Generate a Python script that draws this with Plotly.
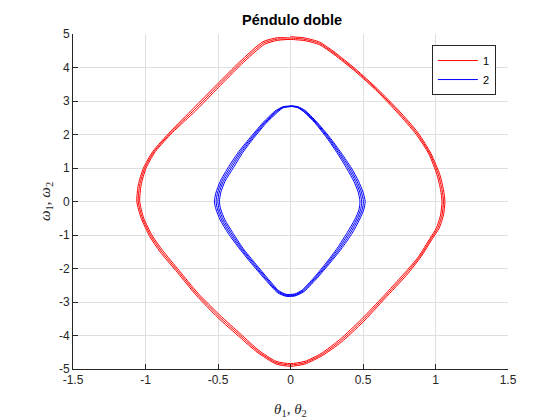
import plotly.graph_objects as go

# Red trajectory (theta1, omega1): three successive loops
theta1_loop1 = [0, 0.1, 0.2, 0.3, 0.45, 0.6, 0.75, 0.88, 0.97, 1.03, 1.055, 1.065, 1.055, 1.025, 0.98, 0.9, 0.8, 0.65, 0.5, 0.35, 0.22, 0.1,
                0, -0.1, -0.23, -0.35, -0.5, -0.65, -0.78, -0.9, -0.97, -1.03, -1.06, -1.05, -1.015, -0.95, -0.83, -0.67, -0.51, -0.35, -0.19, -0.09]
omega1_loop1 = [4.92, 4.88, 4.76, 4.47, 3.95, 3.36, 2.7, 2.05, 1.42, 0.8, 0.35, 0, -0.4, -0.8, -1.1, -1.65, -2.2, -2.9, -3.6, -4.2, -4.6, -4.85,
                -4.92, -4.85, -4.5, -4.05, -3.47, -2.8, -2.12, -1.5, -1.05, -0.5, 0, 0.49, 0.99, 1.49, 2.08, 2.78, 3.48, 4.17, 4.77, 4.89]
theta1_loop2 = [0, 0.1, 0.2, 0.3, 0.45, 0.6, 0.745, 0.873, 0.962, 1.02, 1.045, 1.055, 1.045, 1.015, 0.971, 0.891, 0.793, 0.644, 0.494, 0.345, 0.215, 0.1,
                0, -0.1, -0.225, -0.345, -0.494, -0.644, -0.774, -0.891, -0.961, -1.021, -1.05, -1.04, -1.006, -0.941, -0.822, -0.663, -0.504, -0.345, -0.185, -0.09]
omega1_loop2 = [4.88, 4.84, 4.72, 4.43, 3.91, 3.32, 2.67, 2.03, 1.42, 0.8, 0.35, 0, -0.4, -0.8, -1.1, -1.65, -2.17, -2.87, -3.56, -4.16, -4.57, -4.81,
                -4.88, -4.81, -4.47, -4.01, -3.43, -2.77, -2.09, -1.48, -1.04, -0.5, 0, 0.49, 0.99, 1.49, 2.07, 2.74, 3.44, 4.13, 4.73, 4.85]
theta1_loop3 = [0, 0.1, 0.2, 0.3, 0.45, 0.6, 0.74, 0.866, 0.954, 1.01, 1.035, 1.045, 1.035, 1.005, 0.962, 0.882, 0.786, 0.638, 0.488, 0.34, 0.21, 0.1,
                0, -0.1, -0.22, -0.34, -0.488, -0.638, -0.768, -0.882, -0.952, -1.012, -1.04, -1.03, -0.997, -0.932, -0.814, -0.656, -0.498, -0.34, -0.18, -0.09, 0]
omega1_loop3 = [4.84, 4.8, 4.68, 4.39, 3.87, 3.28, 2.64, 2.01, 1.42, 0.8, 0.35, 0, -0.4, -0.8, -1.1, -1.65, -2.14, -2.84, -3.52, -4.12, -4.54, -4.77,
                -4.84, -4.77, -4.44, -3.97, -3.39, -2.74, -2.06, -1.46, -1.03, -0.5, 0, 0.49, 0.99, 1.49, 2.06, 2.7, 3.4, 4.09, 4.69, 4.81, 4.84]

# Blue trajectory (theta2, omega2)
theta2_loop1 = [0, 0.05, 0.1, 0.18, 0.27, 0.35, 0.42, 0.47, 0.5, 0.515, 0.505, 0.475, 0.425, 0.35, 0.26, 0.17, 0.09, 0.03,
                -0.03, -0.09, -0.17, -0.26, -0.35, -0.43, -0.485, -0.515, -0.525, -0.515, -0.485, -0.425, -0.355, -0.27, -0.18, -0.1, -0.05]
omega2_loop1 = [2.86, 2.83, 2.72, 2.38, 1.92, 1.45, 1.0, 0.6, 0.28, 0, -0.25, -0.55, -0.95, -1.42, -1.9, -2.35, -2.7, -2.82,
                -2.83, -2.72, -2.35, -1.9, -1.42, -0.95, -0.55, -0.22, 0, 0.25, 0.6, 1.05, 1.5, 1.95, 2.4, 2.72, 2.83]
theta2_loop2 = [0, 0.05, 0.098, 0.176, 0.264, 0.342, 0.41, 0.459, 0.489, 0.503, 0.494, 0.464, 0.414, 0.341, 0.253, 0.166, 0.087, 0.03,
                -0.03, -0.087, -0.166, -0.253, -0.343, -0.42, -0.474, -0.504, -0.513, -0.504, -0.474, -0.414, -0.346, -0.263, -0.176, -0.097, -0.05]
omega2_loop2 = [2.85, 2.82, 2.7, 2.37, 1.91, 1.44, 0.99, 0.6, 0.28, 0, -0.25, -0.55, -0.94, -1.41, -1.89, -2.33, -2.68, -2.8,
                -2.81, -2.7, -2.33, -1.89, -1.41, -0.94, -0.55, -0.22, 0, 0.25, 0.6, 1.04, 1.49, 1.94, 2.38, 2.7, 2.82]
theta2_loop3 = [0, 0.05, 0.096, 0.172, 0.258, 0.334, 0.4, 0.448, 0.478, 0.491, 0.483, 0.453, 0.403, 0.332, 0.246, 0.162, 0.084, 0.03,
                -0.03, -0.084, -0.162, -0.246, -0.336, -0.41, -0.463, -0.493, -0.501, -0.493, -0.463, -0.403, -0.337, -0.256, -0.172, -0.094, -0.05, 0]
omega2_loop3 = [2.84, 2.81, 2.68, 2.36, 1.9, 1.43, 0.98, 0.6, 0.28, 0, -0.25, -0.55, -0.93, -1.4, -1.88, -2.31, -2.66, -2.78,
                -2.79, -2.68, -2.31, -1.88, -1.4, -0.93, -0.55, -0.22, 0, 0.25, 0.6, 1.03, 1.48, 1.93, 2.36, 2.68, 2.81, 2.84]
theta2_loop4 = [0.05, 0.094, 0.168, 0.252, 0.326, 0.39, 0.437, 0.467, 0.479, 0.472, 0.442, 0.392, 0.323, 0.239, 0.158, 0.081, 0.03,
                -0.03, -0.081, -0.158, -0.239, -0.329, -0.4, -0.452, -0.482, -0.49, -0.482, -0.452, -0.392, -0.328, -0.249, -0.168, -0.091, -0.05, 0]
omega2_loop4 = [2.8, 2.67, 2.35, 1.89, 1.42, 0.97, 0.6, 0.28, 0, -0.25, -0.55, -0.92, -1.39, -1.87, -2.29, -2.64, -2.76,
                -2.77, -2.66, -2.29, -1.87, -1.39, -0.92, -0.55, -0.22, 0, 0.25, 0.6, 1.02, 1.47, 1.92, 2.34, 2.66, 2.8, 2.83]

theta1 = theta1_loop1 + theta1_loop2 + theta1_loop3
omega1 = omega1_loop1 + omega1_loop2 + omega1_loop3
theta2 = theta2_loop1 + theta2_loop2 + theta2_loop3 + theta2_loop4
omega2 = omega2_loop1 + omega2_loop2 + omega2_loop3 + omega2_loop4

x_ticks = [-1.5, -1, -0.5, 0, 0.5, 1, 1.5]
x_tick_labels = ["-1.5", "-1", "-0.5", "0", "0.5", "1", "1.5"]
y_ticks = [-5, -4, -3, -2, -1, 0, 1, 2, 3, 4, 5]
y_tick_labels = ["-5", "-4", "-3", "-2", "-1", "0", "1", "2", "3", "4", "5"]
series_names = ["1", "2"]
x_title = "<i>θ</i><sub>1</sub>, <i>θ</i><sub>2</sub>"
y_title = "<i>ω</i><sub>1</sub>, <i>ω</i><sub>2</sub>"

fig = go.Figure()
fig.add_trace(go.Scatter(x=theta1, y=omega1, mode="lines", name=series_names[0],
                         line=dict(color="#ff0000", width=1, shape="spline", smoothing=0.6)))
fig.add_trace(go.Scatter(x=theta2, y=omega2, mode="lines", name=series_names[1],
                         line=dict(color="#0000ff", width=1, shape="spline", smoothing=0.6)))

axis_common = dict(showgrid=True, gridcolor="#dfdfdf", gridwidth=1, zeroline=False,
                   showline=True, linecolor="#262626", linewidth=1, mirror=False,
                   ticks="inside", ticklen=5, tickcolor="#262626", automargin=False,
                   tickfont=dict(family="Liberation Sans, Arial", size=12, color="#262626"))

fig.update_xaxes(range=[-1.5, 1.5], tickvals=x_ticks, ticktext=x_tick_labels, **axis_common)
fig.update_yaxes(range=[-5, 5], tickvals=y_ticks, ticktext=y_tick_labels, **axis_common)

title_font = dict(family="Liberation Serif, Times New Roman", size=15, color="#262626")
fig.add_annotation(text=x_title, xref="paper", yref="paper", x=0.5, y=-41 / 335,
                   xanchor="center", yanchor="middle", showarrow=False, font=title_font)
fig.add_annotation(text=y_title, xref="paper", yref="paper", x=-27.5 / 435, y=0.5,
                   xanchor="center", yanchor="middle", textangle=-90, showarrow=False, font=title_font)

fig.update_layout(
    width=560, height=420,
    margin=dict(l=65, r=60, t=26, b=59, autoexpand=False),
    paper_bgcolor="white", plot_bgcolor="white",
    title=dict(text="<b>Péndulo doble</b>", x=282 / 560, xref="paper", xanchor="center",
               y=1 - 12 / 420, yanchor="middle",
               font=dict(family="Liberation Sans, Arial", size=14.5, color="#000000")),
    showlegend=True,
    legend=dict(x=0.825, y=0.967, xanchor="left", yanchor="top",
                bgcolor="white", bordercolor="#262626", borderwidth=1,
                font=dict(family="Liberation Sans, Arial", size=11, color="#000000"),
                itemwidth=40, tracegroupgap=0),
)

fig.write_html("out.html")
